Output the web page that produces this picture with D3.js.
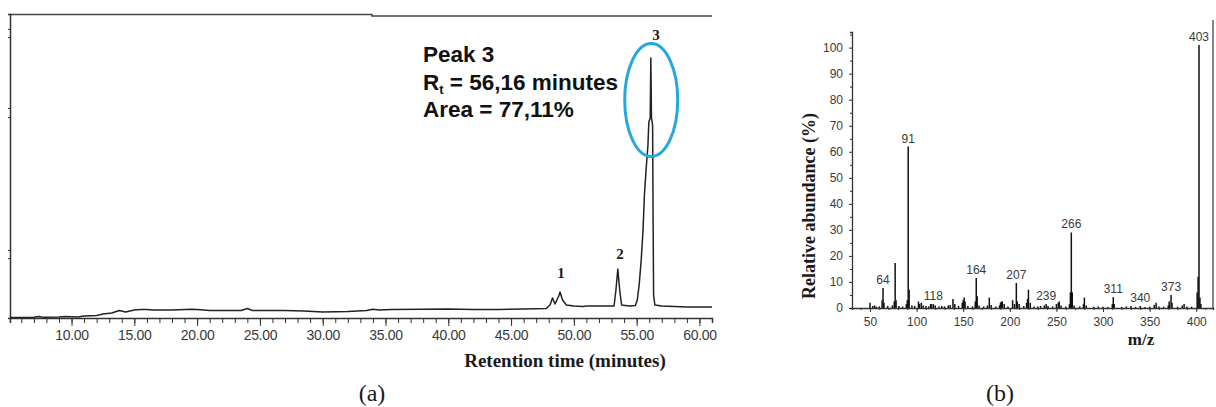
<!DOCTYPE html>
<meta charset="utf-8">
<head>
    <title>GC-MS chromatogram and mass spectrum</title>
    <script src="https://cdn.jsdelivr.net/npm/d3@7"></script>
    <style>
        body { margin: 0; background: #fff; }
        svg { display: block; }
        .tick text { fill: #3a3a3a; font-family: "Liberation Sans", Arial, sans-serif; }
        .axis path, .axis line { stroke: #333; }
        .serif { font-family: "Liberation Serif", "Times New Roman", serif; fill: #1a1a1a; }
    </style>
</head>
<body>
<div id="chart"></div>
<script>
    // ---- (a) chromatogram data ----
    var retentionTime = [5.1, 7.0, 7.4, 7.6, 7.8, 9.0, 9.5, 10.5, 11.0, 12.0, 12.5, 13.2, 13.8, 14.3, 15.0, 15.5, 16.0, 16.5, 18.0,
        19.6, 20.0, 21.0, 23.5, 24.0, 24.4, 27.0, 28.5, 30.0, 32.0, 33.5, 34.0, 34.5, 35.5, 38.0, 40.0, 42.0, 44.0, 46.0,
        47.8, 48.1, 48.3, 48.5, 48.8, 48.9, 49.1, 49.4, 50.0, 50.7, 51.0, 53.2, 53.35, 53.5, 53.65, 53.8, 54.4, 54.9,
        55.05, 55.2, 55.35, 55.5, 55.62, 55.75, 55.9, 55.97, 56.08, 56.13, 56.18, 56.27, 56.31, 56.35, 56.45, 57.0,
        58.0, 59.0, 61.0];
    var intensity = [0.16, 0.23, 0.49, 0.3, 0.23, 0.33, 0.49, 0.33, 0.66, 0.82, 1.32, 1.64, 2.47, 1.97, 2.63, 2.8, 2.8, 2.63, 2.63,
        2.9, 2.8, 2.47, 2.47, 3.13, 2.47, 2.47, 2.3, 1.97, 2.14, 2.47, 2.86, 2.63, 2.8, 2.86, 2.96, 2.8, 2.8, 2.96,
        3.13, 4.28, 6.58, 4.61, 7.24, 8.55, 5.92, 4.28, 3.95, 3.78, 3.95, 3.95, 9.21, 16.1, 9.21, 4.28, 3.95, 4.11,
        5.92, 10.9, 18.4, 28.3, 40.5, 48.7, 56.9, 64.5, 65.8, 85.5, 65.8, 63.5, 32.2, 7.57, 4.28, 3.95,
        3.78, 3.62, 3.62];
    var peakNumbers = ["1", "2", "3"];
    var peakLabelTime = [48.97, 53.67, 56.55];
    var peakLabelLevel = [13.2, 19.4, 91.6];
    var leftAxisMarks = [95.1, 92.4, 69.1, 66.1, 22.4, 19.7];
    var annotationLines = ["Peak 3", "R", "Area = 77,11%"];

    // ---- (b) mass spectrum data ----
    var mz = [50, 53, 55, 57, 60, 63, 64, 65, 69, 74, 76, 77, 78, 81, 85, 89, 90, 91, 92, 95, 98, 102, 103, 105, 107, 110,
        113, 115, 116, 118, 120, 124, 127, 130, 134, 136, 139, 141, 145, 149, 150, 151, 152, 155, 160, 163, 164, 165,
        167, 172, 176, 178, 180, 185, 189, 190, 191, 192, 194, 198, 203, 205, 207, 208, 210, 215, 218, 219, 220, 222,
        226, 230, 233, 237, 239, 241, 246, 250, 252, 253, 255, 260, 264, 265, 266, 267, 269, 275, 279, 280, 282, 290,
        295, 300, 305, 310, 311, 312, 320, 325, 330, 335, 340, 345, 350, 355, 357, 360, 365, 370, 371, 373, 374, 380,
        385, 387, 390, 395, 401, 402, 403, 404, 405];
    var abundance = [2, 0.8, 1, 0.5, 0.6, 3, 7.7, 2, 0.8, 1, 2.5, 17.3, 3, 0.8, 0.6, 1.5, 3, 62, 7, 1, 0.8, 2.5, 1.5, 2, 1, 0.8,
        0.6, 1.5, 1.5, 1.5, 1, 0.6, 0.8, 0.6, 1, 1.2, 3.5, 1.5, 0.8, 2, 3, 4, 2.5, 0.8, 0.6, 2.5, 11.5, 4.5,
        1, 0.6, 1, 4, 1.2, 0.6, 1, 2, 2.5, 2.5, 1.5, 0.6, 3, 1.5, 9.6, 2.5, 1.5, 0.8, 2, 3.5, 7, 2,
        0.6, 0.6, 0.8, 1, 1.5, 0.8, 0.6, 1.5, 2, 2.5, 1, 0.6, 1.5, 6, 29, 6, 1, 0.6, 1.5, 4, 1, 0.5,
        0.6, 0.5, 0.4, 1.5, 4.2, 1.5, 0.4, 0.6, 0.8, 0.4, 0.8, 0.4, 0.5, 1.2, 2, 0.6, 0.5, 1, 2.5, 5, 2, 0.5,
        1, 1.5, 0.6, 0.5, 6, 12, 101, 4, 1.5];
    var labeledMz = [64, 91, 118, 164, 207, 239, 266, 311, 340, 373, 403];
    var mzTicks = [50, 100, 150, 200, 250, 300, 350, 400];
    var abundanceTicks = [0, 10, 20, 30, 40, 50, 60, 70, 80, 90, 100];

    var width = 1216, height = 407;

    var svg = d3.select("#chart")
        .append("svg")
        .attr("width", width)
        .attr("height", height);

    svg.append("rect").attr("width", width).attr("height", height).attr("fill", "#fff");

    // ================= (a) =================
    var x = d3.scaleLinear().domain([5.1, 61]).range([10, 712]);
    var y = d3.scaleLinear().domain([0, 100]).range([318, 14]);

    var gA = svg.append("g");

    // frame: top line (with small step) and left axis
    gA.append("path")
        .attr("d", "M10,14.5H372V16H712")
        .attr("fill", "none").attr("stroke", "#444").attr("stroke-width", 1.5);

    var yAxisA = d3.axisLeft(y).tickValues(leftAxisMarks).tickSize(2).tickFormat("");
    gA.append("g").attr("class", "axis")
        .attr("transform", "translate(10,0)")
        .call(yAxisA)
        .call(function(g) { g.select(".domain").attr("stroke-width", 1.5); });

    // x axis: minor ticks every minute, majors every 5 minutes
    gA.append("g").attr("class", "axis")
        .attr("transform", "translate(0,318)")
        .call(d3.axisBottom(x).tickValues(d3.range(6, 62, 1)).tickSize(5).tickFormat(""))
        .call(function(g) { g.select(".domain").attr("stroke-width", 1.5); });

    gA.append("g").attr("class", "axis")
        .attr("transform", "translate(0,318)")
        .call(d3.axisBottom(x).tickValues(d3.range(10, 61, 5)).tickSize(8).tickPadding(4).tickFormat(d3.format(".2f")))
        .call(function(g) {
            g.select(".domain").remove();
            g.selectAll("text").attr("font-size", 14).attr("letter-spacing", -0.3);
        });

    // chromatogram trace
    var line = d3.line()
        .x(function(d, i) { return x(retentionTime[i]); })
        .y(function(d) { return y(d); });

    gA.append("path")
        .datum(intensity)
        .attr("d", line)
        .attr("fill", "none")
        .attr("stroke", "#222")
        .attr("stroke-width", 1.5)
        .attr("stroke-linejoin", "round");

    // peak numbers
    gA.selectAll(".peaknum")
        .data(peakNumbers)
        .enter().append("text")
        .attr("class", "serif peaknum")
        .attr("x", function(d, i) { return x(peakLabelTime[i]); })
        .attr("y", function(d, i) { return y(peakLabelLevel[i]); })
        .attr("text-anchor", "middle")
        .attr("font-weight", "bold")
        .attr("font-size", 15)
        .text(function(d) { return d; });

    // ellipse around peak 3
    gA.append("ellipse")
        .attr("cx", x(56.16))
        .attr("cy", y(71.7))
        .attr("rx", 26.5)
        .attr("ry", 56.5)
        .attr("fill", "none")
        .attr("stroke", "#26a8de")
        .attr("stroke-width", 3);

    // annotation text
    var ann = gA.append("g")
        .attr("font-family", "'Liberation Sans', Arial, sans-serif")
        .attr("font-weight", "bold")
        .attr("font-size", 22.5)
        .attr("fill", "#111");
    ann.append("text").attr("x", 423).attr("y", 61.5).text(annotationLines[0]);
    var rt = ann.append("text").attr("x", 423).attr("y", 90);
    rt.append("tspan").text(annotationLines[1]);
    rt.append("tspan").attr("font-size", 13).attr("dy", 3.5).text("t");
    rt.append("tspan").attr("dy", -3.5).text(" = 56,16 minutes");
    ann.append("text").attr("x", 423).attr("y", 116.5).text(annotationLines[2]);

    gA.append("text")
        .attr("class", "serif")
        .attr("x", 565).attr("y", 367)
        .attr("text-anchor", "middle")
        .attr("font-weight", "bold")
        .attr("font-size", 19)
        .text("Retention time (minutes)");

    gA.append("text")
        .attr("class", "serif")
        .attr("x", 372).attr("y", 401)
        .attr("text-anchor", "middle")
        .attr("font-size", 24)
        .text("(a)");

    // ================= (b) =================
    var xm = d3.scaleLinear().domain([30.7, 418]).range([852, 1213]);
    var ym = d3.scaleLinear().domain([0, 106]).range([308, 32]);

    var gB = svg.append("g");

    // spectrum sticks
    gB.selectAll(".stick")
        .data(abundance)
        .enter().append("line")
        .attr("class", "stick")
        .attr("x1", function(d, i) { return xm(mz[i]); })
        .attr("x2", function(d, i) { return xm(mz[i]); })
        .attr("y1", ym(0))
        .attr("y2", function(d) { return ym(d); })
        .attr("stroke", "#111")
        .attr("stroke-width", 1.5);

    // right border line
    gB.append("line")
        .attr("x1", 1213).attr("x2", 1213)
        .attr("y1", 20).attr("y2", ym(0))
        .attr("stroke", "#444").attr("stroke-width", 1.3);

    // axes
    gB.append("g").attr("class", "axis")
        .attr("transform", "translate(0," + ym(0) + ")")
        .call(d3.axisBottom(xm).tickValues(d3.range(40, 420, 10)).tickSize(2).tickFormat(""))
        .call(function(g) { g.select(".domain").attr("stroke-width", 1.3); });

    gB.append("g").attr("class", "axis")
        .attr("transform", "translate(0," + ym(0) + ")")
        .call(d3.axisBottom(xm).tickValues(mzTicks).tickSize(4).tickPadding(5.5))
        .call(function(g) {
            g.select(".domain").remove();
            g.selectAll("text").attr("font-size", 12);
        });

    gB.append("g").attr("class", "axis")
        .attr("transform", "translate(852,0)")
        .call(d3.axisLeft(ym).tickValues(d3.range(5, 106, 10)).tickSize(2).tickFormat(""))
        .call(function(g) { g.select(".domain").attr("stroke-width", 1.3); });

    gB.append("g").attr("class", "axis")
        .attr("transform", "translate(852,0)")
        .call(d3.axisLeft(ym).tickValues(abundanceTicks).tickSize(3).tickPadding(6))
        .call(function(g) {
            g.select(".domain").remove();
            g.selectAll("text").attr("font-size", 12);
        });

    // peak labels
    gB.selectAll(".mzlabel")
        .data(labeledMz)
        .enter().append("text")
        .attr("class", "mzlabel")
        .attr("x", function(d) { return xm(d); })
        .attr("y", function(d) { return ym(abundance[mz.indexOf(d)]) - 4; })
        .attr("text-anchor", "middle")
        .attr("font-family", "'Liberation Sans', Arial, sans-serif")
        .attr("font-size", 12)
        .attr("fill", "#3a3a3a")
        .text(function(d) { return d; });

    gB.append("text")
        .attr("class", "serif")
        .attr("transform", "translate(815,206) rotate(-90)")
        .attr("text-anchor", "middle")
        .attr("font-weight", "bold")
        .attr("font-size", 18)
        .text("Relative abundance (%)");

    gB.append("text")
        .attr("class", "serif")
        .attr("x", 1141).attr("y", 345)
        .attr("text-anchor", "middle")
        .attr("font-weight", "bold")
        .attr("font-size", 17)
        .text("m/z");

    gB.append("text")
        .attr("class", "serif")
        .attr("x", 1000).attr("y", 401)
        .attr("text-anchor", "middle")
        .attr("font-size", 24)
        .text("(b)");
</script>
</body>
</html>
